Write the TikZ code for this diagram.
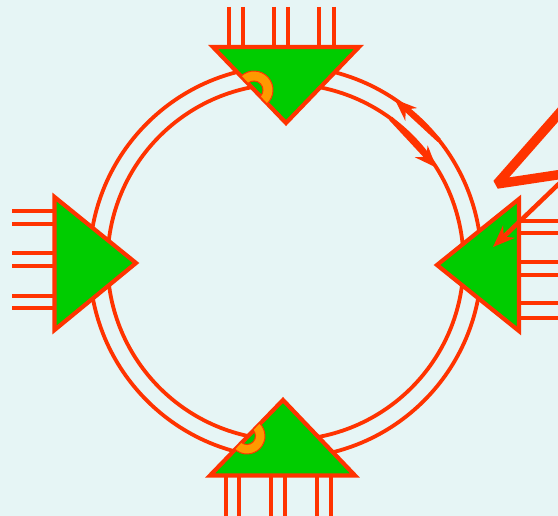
\documentclass[tikz,border=0pt]{standalone}
\usepackage{xcolor}
\usetikzlibrary{arrows.meta}
\definecolor{ringred}{HTML}{FF3300}
\definecolor{chipgreen}{HTML}{00CC00}
\definecolor{notchorange}{HTML}{FF9900}
\definecolor{bgcyan}{HTML}{E6F5F5}
\begin{document}
\begin{tikzpicture}[x=1pt,y=-1pt,
    wire/.style={draw=ringred,line width=3.8pt},
    pin/.style={draw=ringred,line width=3.8pt},
    chip/.style={fill=chipgreen,draw=ringred,line width=4.2pt,line join=miter},
    notch/.style={fill=notchorange,draw=ringred,line width=1pt},
    flow/.style={draw=ringred,line width=4.5pt,-{Stealth[length=22pt,width=17pt]}}]
    % page and background (y runs downwards, 1pt = 1px)
    \useasboundingbox (0,0) rectangle (558,516);
    \fill[bgcyan] (0,0) rectangle (558,516);
    \clip (0,0) rectangle (558,516);
    \coordinate (ctr) at (285.5,262);
    % double ring
    \draw[wire] (ctr) circle[radius=196];
    \draw[wire] (ctr) circle[radius=178];
    % pins of the four chips
    \foreach \x in {229,243,274,288,319,334}{\draw[pin] (\x,7) -- (\x,47);}
    \foreach \x in {226,239,271,285,317,331}{\draw[pin] (\x,475) -- (\x,520);}
    \foreach \y in {211,224,253,266,296,308}{\draw[pin] (12,\y) -- (55,\y);}
    \foreach \y in {221,233,262,275,303,318}{\draw[pin] (518,\y) -- (562,\y);}
    % chips
    \draw[chip] (213,47) coordinate (topL) -- (359,47) -- (286,123) coordinate (topT) -- cycle;
    \draw[chip] (210,475.5) coordinate (botL) -- (355,475.5) -- (283,400) coordinate (botT) -- cycle;
    \draw[chip] (54.5,197) -- (136,263) coordinate (leftT) -- (54.5,330) -- cycle;
    \draw[chip] (519,199) -- (437,265) coordinate (rightT) -- (519,331) -- cycle;
    % orange notches on the left edges of top and bottom chip
    \coordinate (topN) at (254,90);
    \coordinate (botN) at (247,436);
    \filldraw[notch] (topN) ++(-132.8:19) arc[start angle=-132.8,end angle=47.2,radius=19]
        -- ++(227.2:10) arc[start angle=47.2,end angle=-132.8,radius=9] -- cycle;
    \filldraw[notch] (botN) ++(-46.5:18) arc[start angle=-46.5,end angle=133.5,radius=18]
        -- ++(313.5:9.5) arc[start angle=133.5,end angle=-46.5,radius=8.5] -- cycle;
    % token arrows between the rings
    \path (ctr) ++(-38.4:196) coordinate (cwA);
    \path (ctr) ++(-56.1:196) coordinate (cwB);
    \path (ctr) ++(-53.8:178) coordinate (ccA);
    \path (ctr) ++(-32:178) coordinate (ccB);
    \draw[flow] (cwA) -- (cwB);
    \draw[flow] (ccA) -- (ccB);
    % lightning
    \coordinate (boltA) at (570,101);
    \coordinate (boltB) at (497,184);
    \coordinate (boltC) at (570,173);
    \coordinate (hitA) at (566,177);
    \coordinate (hitB) at (493,247);
    \draw[ringred,line width=9.5pt,line join=bevel] (boltA) -- (boltB) -- (boltC);
    \draw[flow] (hitA) -- (hitB);
\end{tikzpicture}
\end{document}
